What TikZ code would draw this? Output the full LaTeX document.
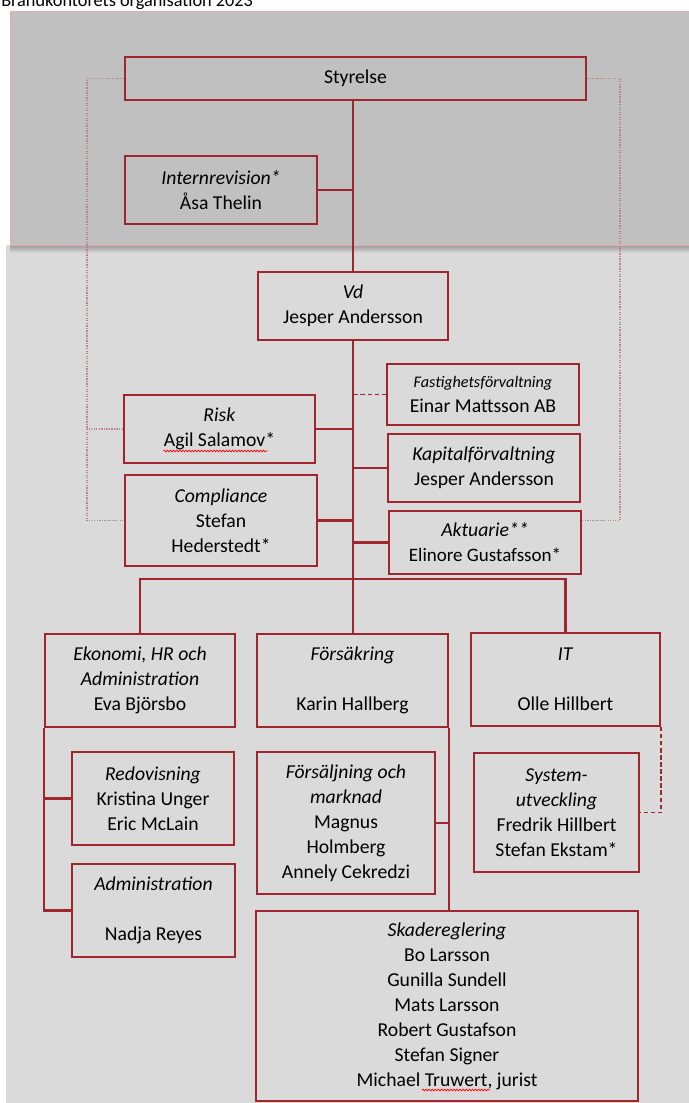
\documentclass[tikz,border=0pt]{standalone}
\usepackage{fontspec}
\setmainfont{Carlito}
\usetikzlibrary{calc,decorations.pathmorphing}

\definecolor{boxred}{RGB}{158,38,44}
\definecolor{railred}{RGB}{185,135,135}
\definecolor{topgray}{RGB}{192,192,192}
\definecolor{lowgray}{RGB}{218,218,218}
\definecolor{topedge}{RGB}{232,170,170}

\newcommand\orgfont{\fontsize{14}{17.78}\selectfont}

\tikzset{
	orgbox/.style={draw=boxred, line width=1.7pt, inner sep=0pt, align=center, font=\orgfont},
	orgline/.style={draw=boxred, line width=1.7pt},
	dashline/.style={draw=boxred, line width=1.4pt, dash pattern=on 3pt off 2pt},
	dotline/.style={draw=railred, line width=0.9pt, dash pattern=on 0.9pt off 0.9pt},
	spellwave/.style={draw=red, line width=0.5pt, decorate, decoration={snake, amplitude=0.6pt, segment length=2.2pt}}
}

\begin{document}
\begin{tikzpicture}[x=0.025cm, y=-0.025cm]
	\useasboundingbox (0,0) rectangle (689,1103);

	% background panels
	\fill[lowgray] (6,245) rectangle (689,1103);
	\shade[top color=black!40, bottom color=lowgray] (10,245) rectangle (689,253);
	\filldraw[fill=topgray, draw=topedge, line width=0.6pt] (10,11) rectangle (694,245);
	\node[anchor=base west, inner sep=0pt, font=\fontsize{13}{16}\selectfont] (title) at (1,7) {Brandkontorets organisation 2023};

	% board and management
	\node[orgbox, minimum width=11.525cm, minimum height=1.075cm] (styrelse) at (355.5,78.5) {Styrelse};
	\node[orgbox, minimum width=4.8cm, minimum height=1.7cm] (intrev) at (221,190) {\textit{Internrevision*}\\Åsa Thelin};
	\node[orgbox, minimum width=4.75cm, minimum height=1.7cm] (vd) at (353,306) {\textit{Vd}\\Jesper Andersson};

	\node[orgbox, minimum width=4.8cm, minimum height=1.525cm] (fastighet) at (483,394.5) {{\fontsize{11.5}{13}\selectfont\itshape Fastighetsförvaltning}\\Einar Mattsson AB};
	\node[orgbox, minimum width=4.775cm, minimum height=1.7cm] (risk) at (219.5,429) {\textit{Risk}\\Agil Salamov*};
	\node[orgbox, minimum width=4.8cm, minimum height=1.7cm] (kapital) at (484,468) {\textit{Kapitalförvaltning}\\Jesper Andersson};
	\node[orgbox, minimum width=4.8cm, minimum height=2.275cm] (compliance) at (221,520.5) {\textit{Compliance}\\Stefan\\Hederstedt*};
	\node[orgbox, minimum width=4.8cm, minimum height=1.575cm] (aktuarie) at (485,542.5) {\textit{Aktuarie**}\\{\fontsize{13.5}{16}\selectfont Elinore Gustafsson*}};

	% departments
	\node[orgbox, minimum width=4.75cm, minimum height=2.325cm] (ekonomi) at (140,680.5) {\textit{Ekonomi, HR och}\\\textit{Administration}\\Eva Björsbo};
	\node[orgbox, minimum width=4.775cm, minimum height=2.325cm] (forsakring) at (352.5,680.5) {\textit{Försäkring}\\[17.78pt]Karin Hallberg};
	\node[orgbox, minimum width=4.725cm, minimum height=2.325cm] (it) at (565.5,679.5) {\textit{IT}\\[17.78pt]Olle Hillbert};

	\node[orgbox, minimum width=4.05cm, minimum height=2.325cm] (redovisning) at (153,798.5) {\textit{Redovisning}\\Kristina Unger\\Eric McLain};
	\node[orgbox, minimum width=4.075cm, minimum height=2.325cm] (administration) at (153.5,910.5) {\textit{Administration}\\[17.78pt]Nadja Reyes};
	\node[orgbox, minimum width=4.45cm, minimum height=3.55cm] (forsaljning) at (346,823) {\textit{Försäljning och}\\\textit{marknad}\\Magnus\\Holmberg\\Annely Cekredzi};
	\node[orgbox, minimum width=4.125cm, minimum height=2.975cm] (system) at (556.5,812.5) {\textit{System-}\\\textit{utveckling}\\Fredrik Hillbert\\Stefan Ekstam*};
	\node[orgbox, minimum width=9.55cm, minimum height=4.75cm] (skade) at (447,1006) {\textit{Skadereglering}\\Bo Larsson\\Gunilla Sundell\\Mats Larsson\\Robert Gustafson\\Stefan Signer\\Michael Truwert, jurist};

	% spelling marks
	\draw[spellwave] ($(risk.center)+(-56,22)$) -- ($(risk.center)+(48,22)$);
	\draw[spellwave] ($(skade.center)+(-25,84)$) -- ($(skade.center)+(43,84)$);

	% reporting lines
	\coordinate (bar) at (353,579);
	\draw[orgline] (vd.north |- styrelse.south) -- (vd.north);
	\draw[orgline] (intrev.east) -- (intrev.east -| vd.north);
	\draw[orgline] (vd.south) -- (vd.south |- forsakring.north);
	\draw[orgline] (ekonomi.north) |- (bar) -| (it.north);
	\draw[orgline] (risk.east) -- (risk.east -| vd.south);
	\draw[orgline] (compliance.east) -- (compliance.east -| vd.south);
	\draw[orgline] (kapital.west) -- (kapital.west -| vd.south);
	\draw[orgline] (aktuarie.west) -- (aktuarie.west -| vd.south);
	\draw[dashline] (fastighet.west) -- (fastighet.west -| vd.south);

	\draw[orgline] (ekonomi.south west) |- (administration.west);
	\draw[orgline] (redovisning.west) -- (redovisning.west -| ekonomi.south west);
	\draw[orgline] (forsakring.south east) -- (forsakring.south east |- skade.north);
	\draw[orgline] (forsaljning.east) -- (forsaljning.east -| forsakring.south east);
	\draw[dashline] (it.south east) |- (system.east);

	% board rails
	\coordinate (lrail) at (87,0);
	\coordinate (rrail) at (620,0);
	\draw[dotline] (styrelse.west) -| (lrail |- compliance.west) -- (compliance.west);
	\draw[dotline] (risk.west) -- (risk.west -| lrail);
	\draw[dotline] (styrelse.east) -| (rrail |- compliance.west) -- (compliance.west -| aktuarie.east);

\end{tikzpicture}
\end{document}
